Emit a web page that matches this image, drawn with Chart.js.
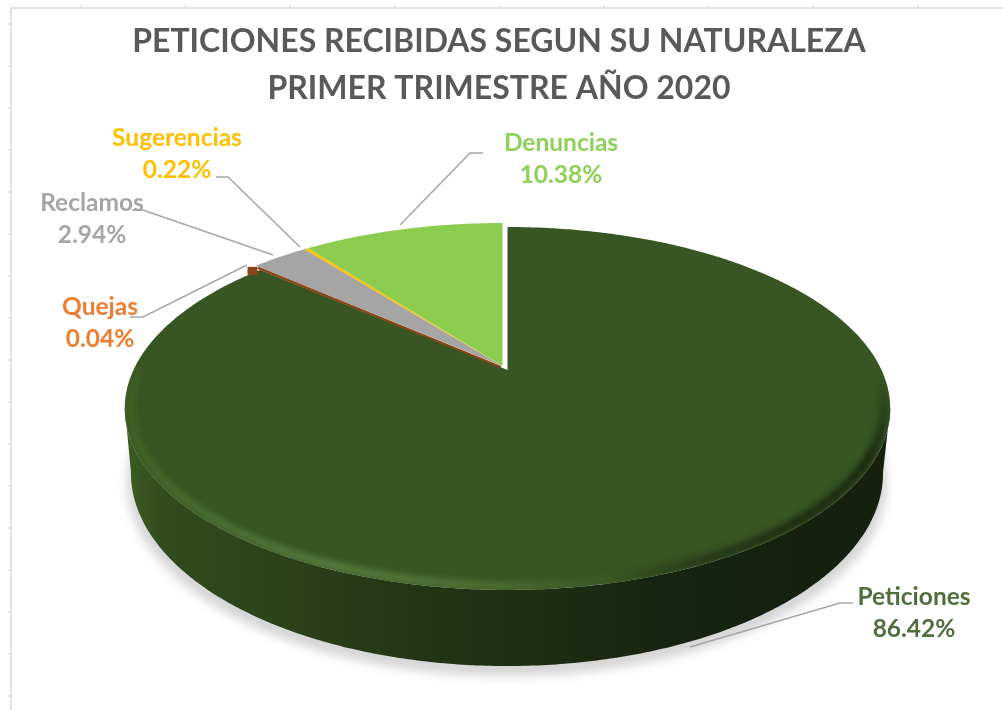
<!DOCTYPE html>
<html>
<head>
<meta charset="utf-8">
<title>Peticiones recibidas</title>
<script src="https://cdn.jsdelivr.net/npm/chart.js@4"></script>
<style>
  html, body { margin: 0; padding: 0; background: #fff; }
  canvas { display: block; filter: blur(0.5px); }
</style>
</head>
<body>
<canvas id="pieChart" width="1003" height="710"></canvas>
<script>
"use strict";

const categories = ["Peticiones", "Quejas", "Reclamos", "Sugerencias", "Denuncias"];
const percentages = [86.42, 0.04, 2.94, 0.22, 10.38];
const sliceColors = ["#375623", "#8a4516", "#a5a5a5", "#ffc000", "#8ccc4e"];
const labelColors = ["#4f6e3c", "#ed7d31", "#a5a5a5", "#ffc000", "#8fd059"];
const titleLines = ["PETICIONES RECIBIDAS SEGUN SU NATURALEZA", "PRIMER TRIMESTRE AÑO 2020"];

// perspective of the disc, fitted on the picture
const k = 0.212;
const topFace = { cx: 507.5, cy: 370, r: 374, a: 173.3 };
const bottomFace = { cx: 507, cy: 432, r: 367.5, a: 184.4 };
const explode = { x: -5, y: -4 }; // every slice but the first is pulled out a bit

// label centre and leader line per category
const labelLayout = [
  { x: 914, y: 597, leader: [[853, 603], [840, 603], [690, 647]] },
  { x: 100, y: 307, leader: [[130, 317], [143, 317], [247, 265]] },
  { x: 92, y: 203, leader: [[132, 210], [143, 210], [273, 255]] },
  { x: 177, y: 138, leader: [[216, 177], [228, 177], [300, 247]] },
  { x: 561, y: 143, leader: [[483, 153], [470, 153], [400, 225]] },
];

// canvas angle -> point on a face
function project(face, angle, radius = 1) {
  const X = Math.cos(angle) * radius;
  const Y = -Math.sin(angle) * radius;
  const d = 1 + k * Y;
  return { x: face.cx + (face.r * X) / d, y: face.cy - (face.a * Y) / d };
}

function traceRim(ctx, face, from, to, radius = 1, move = false) {
  const steps = Math.max(2, Math.ceil(Math.abs(to - from) / 0.01));
  for (let i = 0; i <= steps; i++) {
    const p = project(face, from + ((to - from) * i) / steps, radius);
    if (i === 0 && move) ctx.moveTo(p.x, p.y);
    else ctx.lineTo(p.x, p.y);
  }
}

function slicePath(ctx, arc, shift) {
  ctx.save();
  ctx.translate(shift.x, shift.y);
  ctx.beginPath();
  ctx.moveTo(topFace.cx, topFace.cy);
  traceRim(ctx, topFace, arc.startAngle, arc.endAngle);
  ctx.closePath();
  ctx.restore();
}

function xGradient(ctx, stops) {
  const g = ctx.createLinearGradient(125, 0, 890, 0);
  stops.forEach(([x, c]) => g.addColorStop((x - 125) / 765, c));
  return g;
}

const deg = Math.PI / 180;

const sheetFrame = {
  id: "sheetFrame",
  beforeDraw(chart) {
    const ctx = chart.ctx;
    ctx.save();
    ctx.fillStyle = "#fff";
    ctx.fillRect(0, 0, chart.width, chart.height);
    ctx.strokeStyle = "#e2e2e2";
    ctx.lineWidth = 2;
    ctx.beginPath();
    ctx.moveTo(11, 8);
    ctx.lineTo(1003, 8);
    ctx.moveTo(11, 8);
    ctx.lineTo(11, 710);
    ctx.stroke();
    ctx.lineWidth = 1;
    ctx.strokeStyle = "#d4d4d4";
    ctx.beginPath();
    for (let x = 81; x < 1003; x += 104.6) {
      ctx.moveTo(x, 5);
      ctx.lineTo(x, 8);
    }
    for (let y = 24; y < 710; y += 42) {
      ctx.moveTo(8, y);
      ctx.lineTo(11, y);
    }
    ctx.stroke();
    ctx.restore();
  },
};

const pie3d = {
  id: "pie3d",
  beforeDatasetsDraw(chart) {
    const ctx = chart.ctx;
    const arcs = chart.getDatasetMeta(0).data;
    const none = { x: 0, y: 0 };
    const frontFrom = 102 * deg - Math.PI / 2;
    const frontTo = 258 * deg - Math.PI / 2;
    ctx.save();

    // soft shadow under the disc
    ctx.save();
    ctx.filter = "blur(5px)";
    ctx.fillStyle = "#d6d6d6";
    ctx.beginPath();
    traceRim(ctx, { ...bottomFace, cy: bottomFace.cy + 9, r: bottomFace.r + 4, a: bottomFace.a + 1 }, 0, Math.PI * 2, 1, true);
    ctx.closePath();
    ctx.fill();
    ctx.restore();

    // the gap between the slices stays white
    ctx.fillStyle = "#fff";
    ctx.beginPath();
    traceRim(ctx, topFace, 0, Math.PI * 2, 1, true);
    ctx.closePath();
    ctx.fill();

    // side wall, only the big slice can be seen from the front
    ctx.fillStyle = xGradient(ctx, [
      [125, "#3c5c24"], [170, "#304a1c"], [300, "#2a411a"], [420, "#223515"],
      [520, "#1f3012"], [640, "#182610"], [700, "#16230f"], [890, "#15200e"],
    ]);
    ctx.beginPath();
    traceRim(ctx, topFace, frontFrom, frontTo, 1, true);
    traceRim(ctx, bottomFace, frontTo, frontFrom);
    ctx.closePath();
    ctx.fill();

    // peticiones face
    slicePath(ctx, arcs[0], none);
    ctx.fillStyle = sliceColors[0];
    ctx.fill();

    // bevel along the front rim, fading out at both ends
    ctx.save();
    slicePath(ctx, arcs[0], none);
    ctx.clip();
    ctx.filter = "blur(3px)";
    ctx.lineWidth = 8;
    ctx.strokeStyle = xGradient(ctx, [
      [125, "#426428"], [220, "#4f7435"], [330, "#5a7f40"], [470, "#527538"],
      [600, "#3c5c25"], [690, "#26391a"], [800, "#18260f"], [890, "#15200e"],
    ]);
    for (let t = 92; t < 272; t += 3) {
      ctx.globalAlpha = Math.min(1, (t - 92) / 24, (272 - t) / 12);
      ctx.beginPath();
      traceRim(ctx, topFace, t * deg - Math.PI / 2, (t + 3.2) * deg - Math.PI / 2, 0.985, true);
      ctx.stroke();
    }
    ctx.restore();

    // quejas: small step of its wall at the rim
    const q = project(topFace, (arcs[1].startAngle + arcs[1].endAngle) / 2);
    ctx.fillStyle = sliceColors[1];
    ctx.fillRect(q.x + explode.x - 8, q.y + explode.y + 1, 10, 8);

    // the pulled out slices
    for (let i = 2; i < arcs.length; i++) {
      slicePath(ctx, arcs[i], explode);
      ctx.fillStyle = sliceColors[i];
      ctx.fill();
    }

    // quejas is too thin to show, stroke it along its edge
    const a = { x: topFace.cx + explode.x / 2, y: topFace.cy + explode.y / 2 };
    ctx.strokeStyle = sliceColors[1];
    ctx.lineWidth = 2.2;
    ctx.beginPath();
    ctx.moveTo(a.x - 4, a.y - 1);
    ctx.lineTo(q.x + explode.x / 2, q.y + explode.y / 2);
    ctx.stroke();

    ctx.restore();
    return false; // the flat arcs are replaced by the drawing above
  },
  afterDraw(chart) {
    const ctx = chart.ctx;
    ctx.save();
    ctx.textAlign = "center";
    ctx.textBaseline = "middle";
    ctx.font = "bold 24.5px Lato";
    categories.forEach((name, i) => {
      const l = labelLayout[i];
      ctx.strokeStyle = "#a6a6a6";
      ctx.lineWidth = 1.5;
      ctx.beginPath();
      l.leader.forEach(([x, y], j) => (j ? ctx.lineTo(x, y) : ctx.moveTo(x, y)));
      ctx.stroke();
      ctx.fillStyle = labelColors[i];
      ctx.fillText(name, l.x, l.y);
      ctx.fillText(percentages[i].toFixed(2) + "%", l.x, l.y + 32);
    });
    ctx.restore();
  },
};

new Chart(document.getElementById("pieChart"), {
  type: "pie",
  data: {
    labels: categories,
    datasets: [{ data: percentages, backgroundColor: sliceColors, borderWidth: 0 }],
  },
  plugins: [sheetFrame, pie3d],
  options: {
    responsive: false,
    animation: false,
    events: [],
    layout: { padding: { right: 5 } },
    plugins: {
      legend: { display: false },
      tooltip: { enabled: false },
      title: {
        display: true,
        text: titleLines,
        color: "#595959",
        font: { family: "Lato", weight: "bold", size: 32, lineHeight: 1.47 },
        padding: { top: 18, bottom: 0 },
      },
    },
  },
});
</script>
</body>
</html>
